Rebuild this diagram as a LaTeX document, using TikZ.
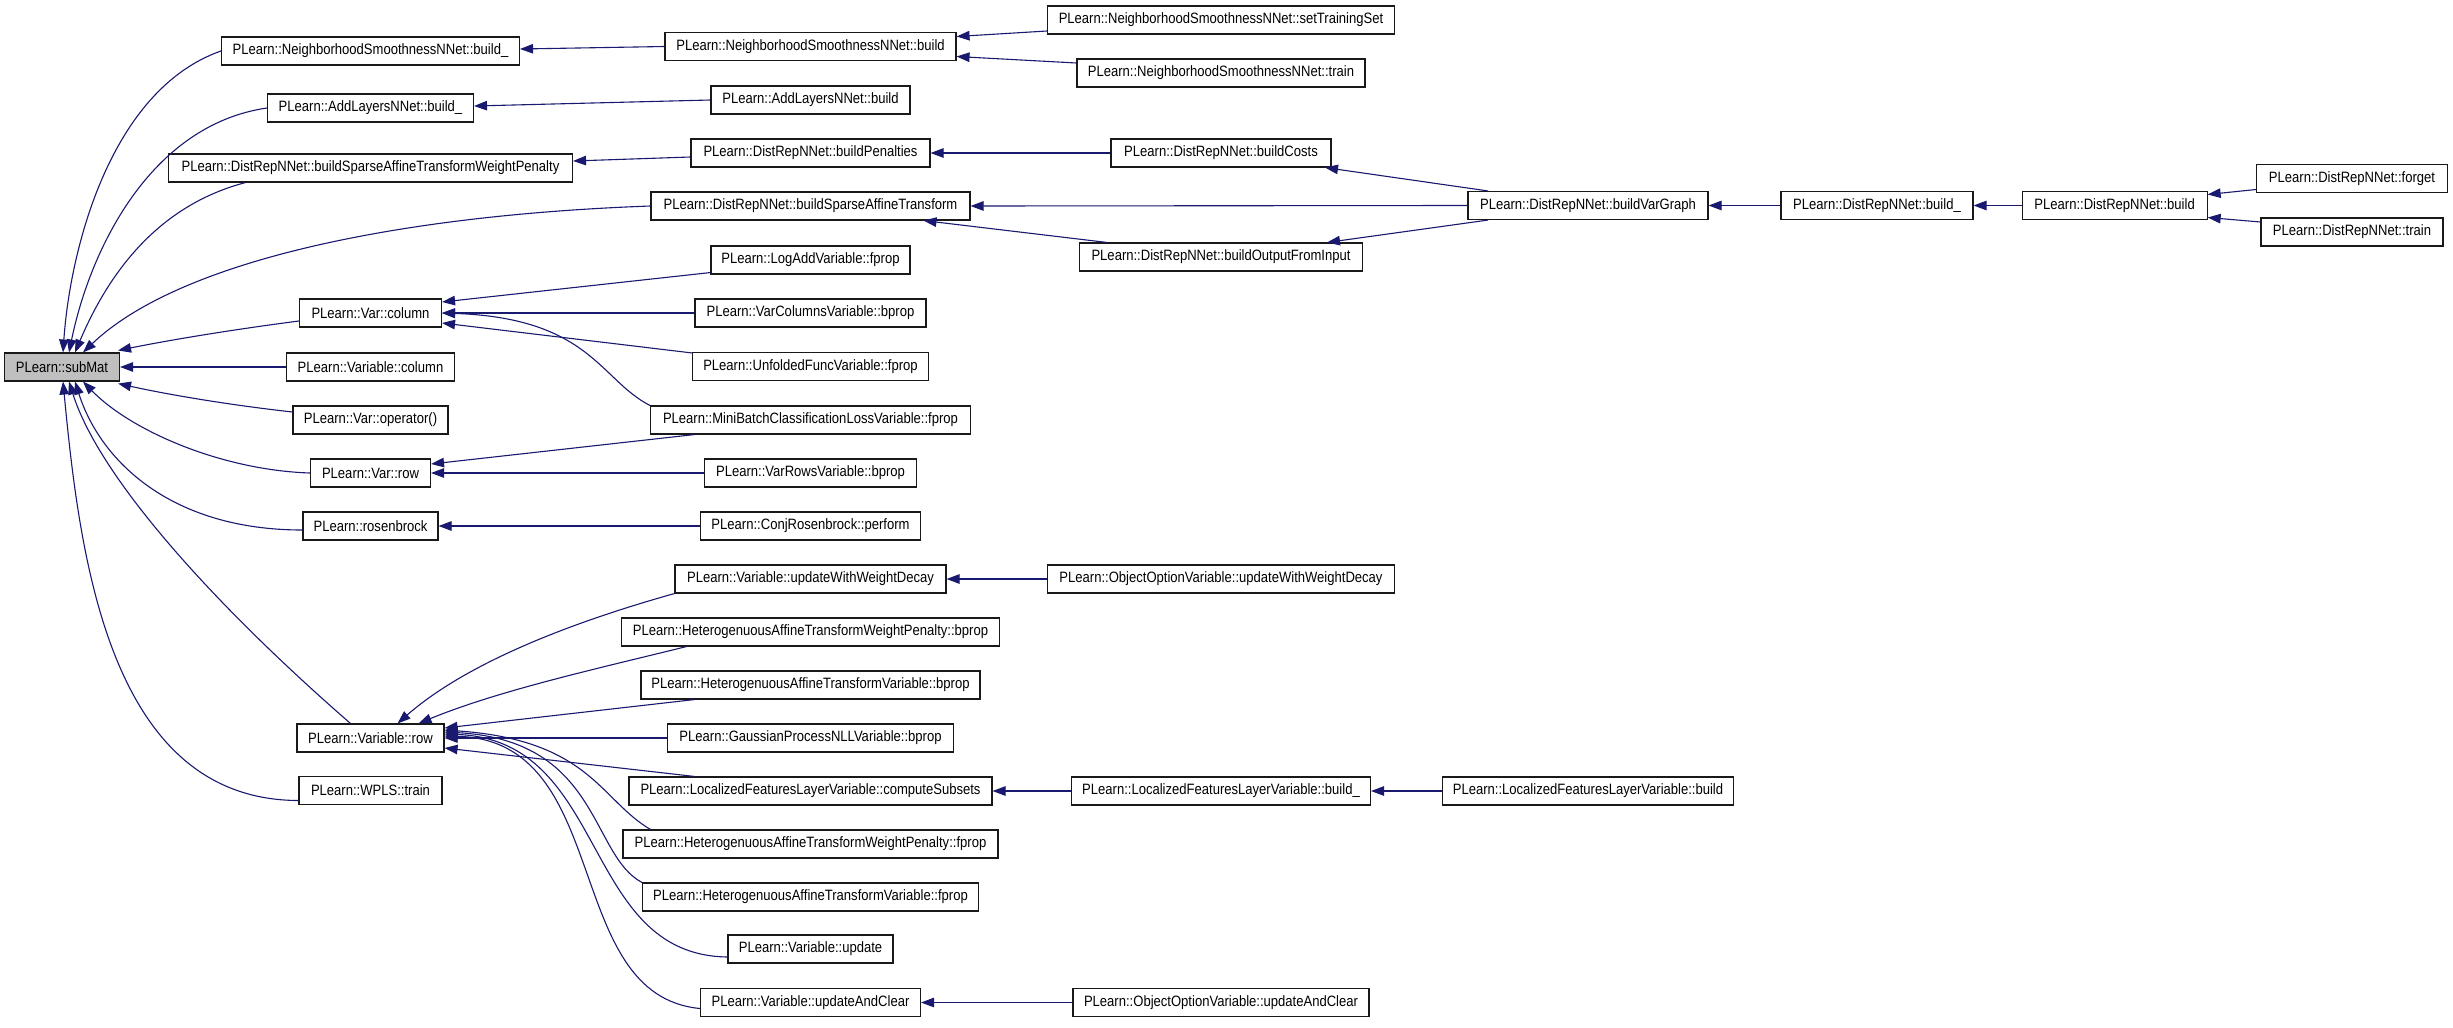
\documentclass[tikz,border=0pt]{standalone}
\usepackage{fontspec}
\setmainfont{Liberation Sans}[FakeStretch=0.87]
\usetikzlibrary{arrows.meta}
\definecolor{edgeblue}{RGB}{25,25,112}
\definecolor{subjgray}{RGB}{191,191,191}
\tikzset{
  fn/.style={draw=black!90, line width=1.1bp, fill=white, minimum height=28bp,
    inner xsep=3bp, inner ysep=0pt, font=\fontsize{15bp}{17bp}\selectfont, anchor=center},
  subj/.style={fn, fill=subjgray},
  edge/.style={draw=edgeblue, line width=1.1bp, -{Triangle[length=13bp,width=9.5bp]}},
}
\begin{document}
\begin{tikzpicture}[x=1bp, y=-1bp]
\fill[white] (0,0) rectangle (2453,1027);
\path[use as bounding box] (0,0) rectangle (2453,1027);

% column 0
\node[subj, minimum width=115bp] (submat) at (62,367) {PLearn::subMat};

% column 1
\node[fn, minimum width=298bp] (nsnbu) at (370.5,51) {PLearn::NeighborhoodSmoothnessNNet::build\_};
\node[fn, minimum width=206bp] (albu) at (370.5,108) {PLearn::AddLayersNNet::build\_};
\node[fn, minimum width=404bp] (bsatwp) at (370.5,168) {PLearn::DistRepNNet::buildSparseAffineTransformWeightPenalty};
\node[fn, minimum width=142bp] (varcol) at (370.5,313) {PLearn::Var::column};
\node[fn, minimum width=168bp] (vcol) at (370.5,367) {PLearn::Variable::column};
\node[fn, minimum width=155bp] (varop) at (370.5,420) {PLearn::Var::operator()};
\node[fn, minimum width=120bp] (varrow) at (370.5,473) {PLearn::Var::row};
\node[fn, minimum width=135bp] (rosen) at (370.5,526) {PLearn::rosenbrock};
\node[fn, minimum width=147bp] (vrow) at (370.5,738) {PLearn::Variable::row};
\node[fn, minimum width=143bp] (wpls) at (370.5,790.5) {PLearn::WPLS::train};

% column 2
\node[fn, minimum width=291bp] (nsnb) at (810.5,46.5) {PLearn::NeighborhoodSmoothnessNNet::build};
\node[fn, minimum width=199bp] (alb) at (810.5,100) {PLearn::AddLayersNNet::build};
\node[fn, minimum width=239bp] (bpen) at (810.5,153) {PLearn::DistRepNNet::buildPenalties};
\node[fn, minimum width=319bp] (bsat) at (810.5,206) {PLearn::DistRepNNet::buildSparseAffineTransform};
\node[fn, minimum width=199bp] (logadd) at (810.5,260) {PLearn::LogAddVariable::fprop};
\node[fn, minimum width=231bp] (varcolsb) at (810.5,313) {PLearn::VarColumnsVariable::bprop};
\node[fn, minimum width=236bp] (unfold) at (810.5,366.5) {PLearn::UnfoldedFuncVariable::fprop};
\node[fn, minimum width=320bp] (minib) at (810.5,420) {PLearn::MiniBatchClassificationLossVariable::fprop};
\node[fn, minimum width=212bp] (varrowsb) at (810.5,473) {PLearn::VarRowsVariable::bprop};
\node[fn, minimum width=220bp] (conjr) at (810.5,526) {PLearn::ConjRosenbrock::perform};
\node[fn, minimum width=271bp] (uwwd) at (810.5,579) {PLearn::Variable::updateWithWeightDecay};
\node[fn, minimum width=378bp] (hatwpb) at (810.5,632) {PLearn::HeterogenuousAffineTransformWeightPenalty::bprop};
\node[fn, minimum width=339bp] (hatvb) at (810.5,685) {PLearn::HeterogenuousAffineTransformVariable::bprop};
\node[fn, minimum width=286bp] (gpnll) at (810.5,738) {PLearn::GaussianProcessNLLVariable::bprop};
\node[fn, minimum width=363bp] (compsub) at (810.5,791) {PLearn::LocalizedFeaturesLayerVariable::computeSubsets};
\node[fn, minimum width=375bp] (hatwpf) at (810.5,844) {PLearn::HeterogenuousAffineTransformWeightPenalty::fprop};
\node[fn, minimum width=336bp] (hatvf) at (810.5,897) {PLearn::HeterogenuousAffineTransformVariable::fprop};
\node[fn, minimum width=165bp] (vupd) at (810.5,949) {PLearn::Variable::update};
\node[fn, minimum width=220bp] (uac) at (810.5,1002.5) {PLearn::Variable::updateAndClear};

% column 3
\node[fn, minimum width=347bp] (nsnset) at (1221,20) {PLearn::NeighborhoodSmoothnessNNet::setTrainingSet};
\node[fn, minimum width=288bp] (nsntrain) at (1221,73) {PLearn::NeighborhoodSmoothnessNNet::train};
\node[fn, minimum width=220bp] (bcosts) at (1221,153) {PLearn::DistRepNNet::buildCosts};
\node[fn, minimum width=283bp] (bofi) at (1221,257) {PLearn::DistRepNNet::buildOutputFromInput};
\node[fn, minimum width=347bp] (oouwwd) at (1221,579) {PLearn::ObjectOptionVariable::updateWithWeightDecay};
\node[fn, minimum width=299bp] (lflvbu) at (1221,791) {PLearn::LocalizedFeaturesLayerVariable::build\_};
\node[fn, minimum width=296bp] (oouac) at (1221,1002.5) {PLearn::ObjectOptionVariable::updateAndClear};

% columns 4-7
\node[fn, minimum width=240bp] (bvg) at (1588,205.5) {PLearn::DistRepNNet::buildVarGraph};
\node[fn, minimum width=291bp] (lflvb) at (1588,791) {PLearn::LocalizedFeaturesLayerVariable::build};
\node[fn, minimum width=192bp] (drnbu) at (1877,205.5) {PLearn::DistRepNNet::build\_};
\node[fn, minimum width=185bp] (drnb) at (2114.6,205.5) {PLearn::DistRepNNet::build};
\node[fn, minimum width=191bp] (forget) at (2352,178.5) {PLearn::DistRepNNet::forget};
\node[fn, minimum width=182bp] (train) at (2352,232) {PLearn::DistRepNNet::train};

% edges into subMat
\draw[edge] (nsnbu.west) .. controls (110,90) and (70,250) .. ([xshift=1bp]submat.north);
\draw[edge] (albu.west) .. controls (150,125) and (90,250) .. ([xshift=7bp]submat.north);
\draw[edge] ([xshift=-125bp]bsatwp.south) .. controls (160,205) and (110,270) .. ([xshift=13bp]submat.north);
\draw[edge] (bsat.west) .. controls (400,215) and (180,260) .. ([xshift=21bp]submat.north);
\draw[edge] ([yshift=-8bp]varcol.west) .. controls (230,330) and (170,340) .. ([xshift=-2bp,yshift=2bp]submat.north east);
\draw[edge] (vcol.west) -- (submat.east);
\draw[edge] ([yshift=8bp]varop.west) .. controls (230,405) and (170,395) .. ([xshift=-2bp,yshift=-2bp]submat.south east);
\draw[edge] (varrow.west) .. controls (220,470) and (130,430) .. ([xshift=21bp]submat.south);
\draw[edge] ([yshift=-4bp]rosen.west) .. controls (170,530) and (100,460) .. ([xshift=13bp]submat.south);
\draw[edge] ([xshift=-20bp]vrow.north) .. controls (220,610) and (100,480) .. ([xshift=7bp]submat.south);
\draw[edge] ([yshift=-10bp]wpls.west) .. controls (110,800) and (80,560) .. ([xshift=1bp]submat.south);

% column 2 -> column 1
\draw[edge] (nsnb.west) -- ([yshift=2bp]nsnbu.east);
\draw[edge] (alb.west) -- ([yshift=2bp]albu.east);
\draw[edge] ([yshift=-4bp]bpen.west) -- ([yshift=7bp]bsatwp.east);
\draw[edge] ([yshift=2bp]logadd.south west) -- ([yshift=11bp]varcol.east);
\draw[edge] (varcolsb.west) -- (varcol.east);
\draw[edge] ([yshift=-1bp]unfold.north west) -- ([yshift=-10bp]varcol.east);
\draw[edge] (minib.north west) .. controls (600,380) and (590,318) .. (varcol.east);
\draw[edge] ([xshift=-116bp]minib.south) -- ([yshift=9bp]varrow.east);
\draw[edge] (varrowsb.west) -- (varrow.east);
\draw[edge] (conjr.west) -- (rosen.east);
\draw[edge] (uwwd.south west) .. controls (580,620) and (470,660) .. ([xshift=27bp]vrow.north);
\draw[edge] ([xshift=-124bp]hatwpb.south) .. controls (600,668) and (500,690) .. ([xshift=48bp]vrow.north);
\draw[edge] ([xshift=-116bp]hatvb.south) -- ([yshift=10bp]vrow.east);
\draw[edge] (gpnll.west) -- (vrow.east);
\draw[edge] ([xshift=-116bp]compsub.north) -- ([yshift=-10bp]vrow.east);
\draw[edge] ([xshift=-160bp]hatwpf.north) .. controls (600,800) and (590,740) .. ([yshift=8bp]vrow.east);
\draw[edge] (hatvf.north west) .. controls (590,855) and (600,740) .. ([yshift=6bp]vrow.east);
\draw[edge] ([yshift=-8bp]vupd.west) .. controls (580,955) and (610,740) .. ([yshift=4bp]vrow.east);
\draw[edge] ([yshift=-6bp]uac.west) .. controls (560,995) and (615,740) .. ([yshift=2bp]vrow.east);

% column 3 -> column 2
\draw[edge] ([yshift=-11bp]nsnset.west) -- ([yshift=10bp]nsnb.east);
\draw[edge] ([yshift=10bp]nsntrain.west) -- ([yshift=-10bp]nsnb.east);
\draw[edge] (bcosts.west) -- (bpen.east);
\draw[edge] (bvg.west) -- (bsat.east);
\draw[edge] ([xshift=-114bp]bofi.north) -- ([xshift=113bp]bsat.south);
\draw[edge] (oouwwd.west) -- (uwwd.east);
\draw[edge] (lflvbu.west) -- (compsub.east);
\draw[edge] (oouac.west) -- (uac.east);

% further right
\draw[edge] ([xshift=-100bp]bvg.north) -- ([xshift=104bp]bcosts.south);
\draw[edge] ([xshift=-100bp]bvg.south) -- ([xshift=106bp]bofi.north);
\draw[edge] (lflvb.west) -- (lflvbu.east);
\draw[edge] (drnbu.west) -- (bvg.east);
\draw[edge] (drnb.west) -- (drnbu.east);
\draw[edge] ([yshift=-11bp]forget.west) -- ([yshift=11bp]drnb.east);
\draw[edge] ([yshift=10bp]train.west) -- ([yshift=-12bp]drnb.east);
\end{tikzpicture}
\end{document}
